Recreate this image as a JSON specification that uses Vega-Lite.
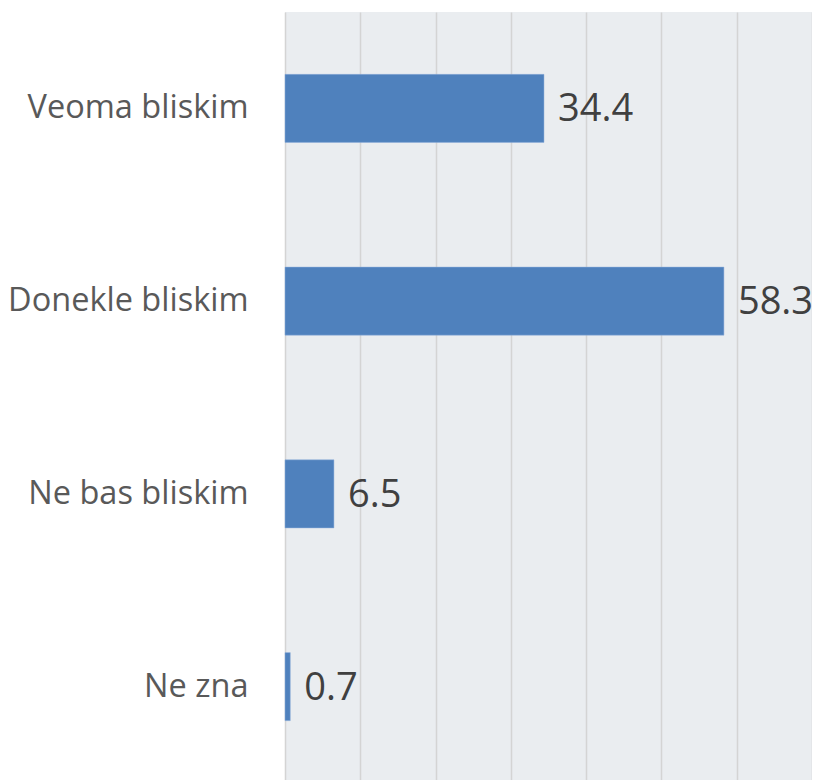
{
  "$schema": "https://vega.github.io/schema/vega-lite/v6.json",
  "autosize": {"type": "none"},
  "padding": {"left": 285, "top": 12, "right": 0, "bottom": 0},
  "width": 527,
  "height": 771,
  "background": "#ffffff",
  "config": {
    "font": "Open Sans",
    "view": {"stroke": null, "fill": "#eaedf0"}
  },
  "data": {
    "values": [
      {"category": "Veoma bliskim", "value": 34.4},
      {"category": "Donekle bliskim", "value": 58.3},
      {"category": "Ne bas bliskim", "value": 6.5},
      {"category": "Ne zna", "value": 0.7}
    ]
  },
  "encoding": {
    "y": {
      "field": "category",
      "type": "nominal",
      "sort": null,
      "title": null,
      "scale": {"paddingInner": 0.647, "paddingOuter": 0.3235},
      "axis": {
        "domain": false,
        "ticks": false,
        "labelPadding": 37,
        "labelFont": "Open Sans",
        "labelFontSize": 32.5,
        "labelColor": "#595959",
        "labelLimit": 400
      }
    },
    "x": {
      "field": "value",
      "type": "quantitative",
      "title": null,
      "scale": {"domain": [0, 70], "nice": false},
      "axis": {
        "values": [0, 10, 20, 30, 40, 50, 60, 70],
        "labels": false,
        "ticks": false,
        "domain": false,
        "grid": true,
        "gridColor": "#d4d4d4",
        "gridWidth": 1.5
      }
    }
  },
  "layer": [
    {
      "mark": {"type": "bar", "color": "#4f81bd", "stroke": "#8eaedb", "strokeWidth": 0.5}
    },
    {
      "mark": {
        "type": "text",
        "align": "left",
        "baseline": "middle",
        "dx": 14,
        "dy": 2,
        "fontSize": 38,
        "color": "#404040",
        "font": "Open Sans"
      },
      "encoding": {"text": {"field": "value", "type": "quantitative", "format": ".1f"}}
    }
  ]
}
